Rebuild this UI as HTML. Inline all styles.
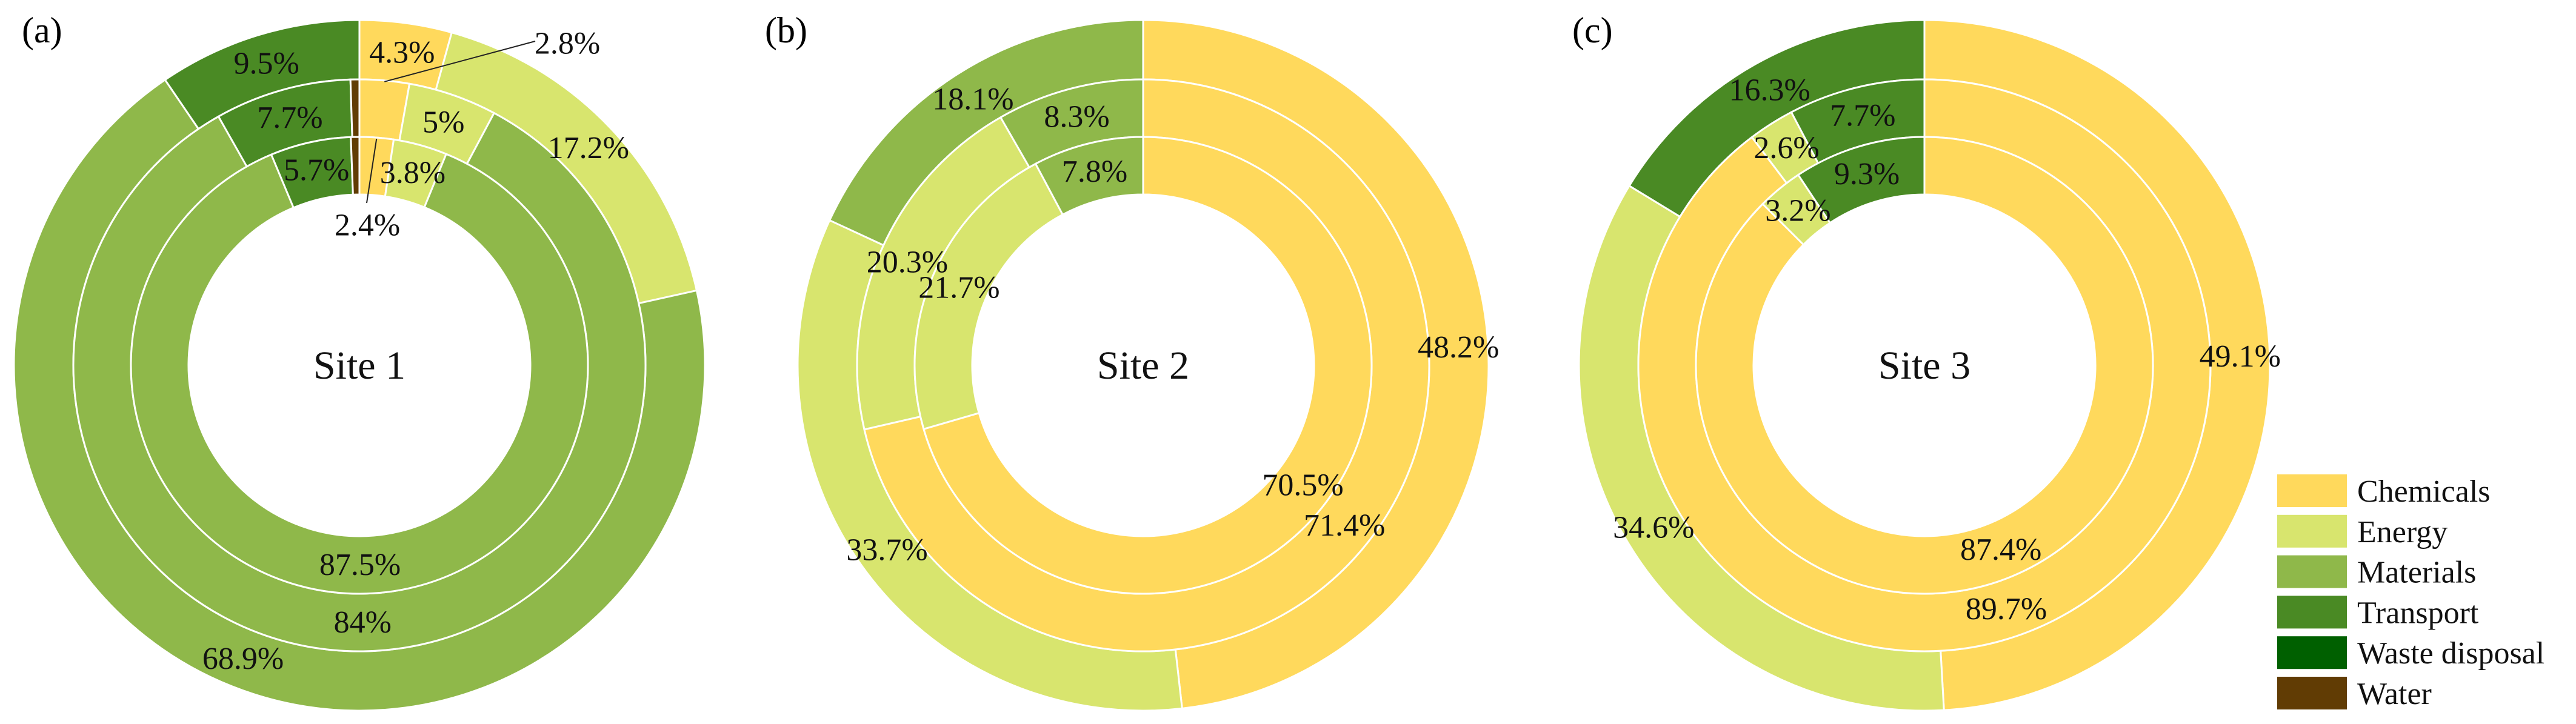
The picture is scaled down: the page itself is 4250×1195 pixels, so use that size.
<!DOCTYPE html>
<html><head><meta charset="utf-8">
<style>
html,body{margin:0;padding:0;background:#fff;}
svg{display:block;font-family:"Liberation Serif","Times New Roman",serif;}
</style></head>
<body>
<svg id="chart" width="4250" height="1195" viewBox="0 0 4250 1195" xmlns="http://www.w3.org/2000/svg">
  <g id="marks"></g>
  <g id="labels"></g>
  <text x="36" y="70" font-size="60">(a)</text>
  <text x="1262" y="70" font-size="60">(b)</text>
  <text x="2594" y="70" font-size="60">(c)</text>
  <g id="legend"></g>
</svg>
<script>
const categories = ["Chemicals","Energy","Materials","Transport","Waste disposal","Water"];
const colors = ["#FFD95C","#D8E56E","#8FB84A","#4A8A24","#006000","#613C04"];
const siteNames = ["Site 1","Site 2","Site 3"];
// values per site: [outer, middle, inner], each in category order
const site1Outer = [4.3,17.2,68.9,9.5,0,0];
const site1Middle = [2.8,5,84,7.7,0,0.5];
const site1Inner = [2.4,3.8,87.5,5.7,0,0.6];
const site2Outer = [48.2,33.7,18.1,0,0,0];
const site2Middle = [71.4,20.3,8.3,0,0,0];
const site2Inner = [70.5,21.7,7.8,0,0,0];
const site3Outer = [49.1,34.6,0,16.3,0,0];
const site3Middle = [89.7,2.6,0,7.7,0,0];
const site3Inner = [87.4,3.2,0,9.3,0,0];

const NS="http://www.w3.org/2000/svg";
const marks=document.getElementById('marks');
const labels=document.getElementById('labels');
const centers=[[593,603],[1886,603],[3175,603]];
const radii=[[472,570],[377,472],[282,377]];
const sites=[[site1Outer,site1Middle,site1Inner],[site2Outer,site2Middle,site2Inner],[site3Outer,site3Middle,site3Inner]];
const ringNames=["outer","middle","inner"];

function pt(cx,cy,r,frac){const a=frac*2*Math.PI;return [cx+r*Math.sin(a),cy-r*Math.cos(a)];}
function arcPath(cx,cy,r0,r1,f0,f1){
  const large=(f1-f0)>0.5?1:0;
  const a=pt(cx,cy,r1,f0),b=pt(cx,cy,r1,f1),c=pt(cx,cy,r0,f1),d=pt(cx,cy,r0,f0);
  return `M${a[0]},${a[1]}A${r1},${r1} 0 ${large} 1 ${b[0]},${b[1]}L${c[0]},${c[1]}A${r0},${r0} 0 ${large} 0 ${d[0]},${d[1]}Z`;
}
function fmt(v){return (Math.round(v*10)/10)+"%";}

sites.forEach((rings,si)=>{
  const [cx,cy]=centers[si];
  rings.forEach((vals,ri)=>{
    const total=vals.reduce((s,v)=>s+v,0);
    let acc=0;
    vals.forEach((v,ci)=>{
      if(v<=0) return;
      const f0=acc/total, f1=(acc+v)/total; acc+=v;
      const p=document.createElementNS(NS,'path');
      p.setAttribute('d',arcPath(cx,cy,radii[ri][0],radii[ri][1],f0,f1));
      p.setAttribute('fill',colors[ci]);
      p.setAttribute('stroke','#fff');
      p.setAttribute('stroke-width','3');
      
      
      marks.appendChild(p);
      if(v<1) return;
      let txt=fmt(v);
      const mid=(f0+f1)/2, rm=(radii[ri][0]+radii[ri][1])/2;
      let [lx,ly]=pt(cx,cy,rm,mid);
      const special = si===0 && ci===0 && ri>0;
      if(special){
        const ln=document.createElementNS(NS,'line');
        const [sx,sy]=pt(cx,cy,radii[ri][1]-2,mid);
        let ex,ey;
        if(ri===1){ex=cx+290;ey=68;lx=cx+343;ly=72;}
        else{ex=cx+12;ey=335;lx=cx+13;ly=372;}
        ln.setAttribute('x1',sx);ln.setAttribute('y1',sy);
        ln.setAttribute('x2',ex);ln.setAttribute('y2',ey);
        ln.setAttribute('stroke','#222');ln.setAttribute('stroke-width','2');
        
        
        labels.appendChild(ln);
      }
      const t=document.createElementNS(NS,'text');
      t.setAttribute('x',lx);t.setAttribute('y',ly);
      t.setAttribute('text-anchor','middle');t.setAttribute('dominant-baseline','central');
      t.setAttribute('font-size','52');t.setAttribute('fill','#111');
      
      
      t.textContent=txt;
      labels.appendChild(t);
    });
  });
  const st=document.createElementNS(NS,'text');
  st.setAttribute('x',cx);st.setAttribute('y',cy+22);
  st.setAttribute('text-anchor','middle');st.setAttribute('font-size','66');st.setAttribute('fill','#111');
  
  
  st.textContent=siteNames[si];
  labels.appendChild(st);
});

const legend=document.getElementById('legend');
categories.forEach((c,i)=>{
  const y=783+i*66.8;
  const r=document.createElementNS(NS,'rect');
  r.setAttribute('x',3757);r.setAttribute('y',y);r.setAttribute('width',115);r.setAttribute('height',54);
  r.setAttribute('fill',colors[i]);
  
  
  legend.appendChild(r);
  const t=document.createElementNS(NS,'text');
  t.setAttribute('x',3889);t.setAttribute('y',y+45);t.setAttribute('font-size','52');t.setAttribute('fill','#111');
  
  
  t.textContent=c;
  legend.appendChild(t);
});
</script>
</body></html>
